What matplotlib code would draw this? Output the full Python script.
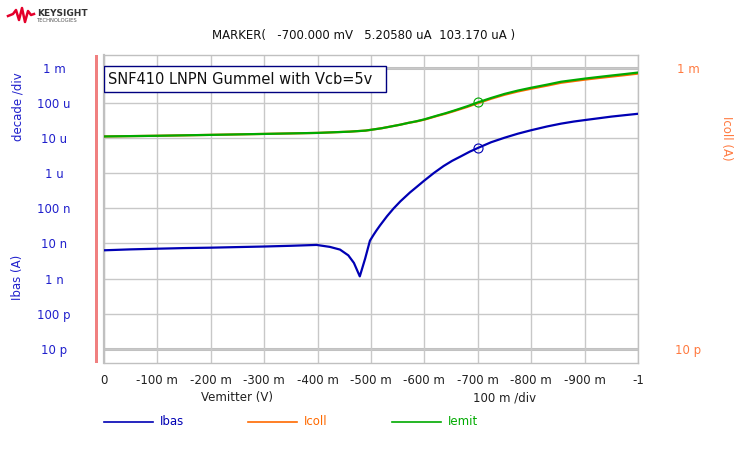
import matplotlib
matplotlib.use("Agg")
import matplotlib.pyplot as plt
from matplotlib.patches import Rectangle
from matplotlib.lines import Line2D
from matplotlib.ticker import FixedLocator, NullLocator

# data, Vemitter in volts, currents in amps
ibas_v = [0, -0.05, -0.1, -0.15, -0.2, -0.25, -0.3, -0.35, -0.398, -0.423, -0.442,
          -0.4575, -0.468, -0.479, -0.489, -0.498, -0.505, -0.51, -0.517, -0.53,
          -0.542, -0.555, -0.573, -0.585, -0.6, -0.618, -0.636, -0.652, -0.668,
          -0.685, -0.7, -0.725, -0.75, -0.775, -0.8, -0.83, -0.856, -0.88, -0.9,
          -0.925, -0.95, -0.975, -1.0]
ibas = [6.4e-9, 6.8e-9, 7.1e-9, 7.4e-9, 7.6e-9, 7.9e-9, 8.2e-9, 8.6e-9, 9.1e-9,
        8.0e-9, 6.7e-9, 4.6e-9, 2.8e-9, 1.16e-9, 3.7e-9, 12e-9, 17.8e-9, 23.2e-9,
        32.8e-9, 59.7e-9, 98e-9, 158e-9, 283e-9, 400e-9, 620e-9, 1.02e-6, 1.6e-6,
        2.25e-6, 3.0e-6, 4.1e-6, 5.2058e-6, 7.6e-6, 10.2e-6, 13.3e-6, 16.7e-6,
        21.4e-6, 25.7e-6, 29.5e-6, 32.4e-6, 36.3e-6, 40.7e-6, 44.7e-6, 49e-6]

ie_v = [0, -0.1, -0.2, -0.3, -0.4, -0.46, -0.49, -0.52, -0.542, -0.555, -0.57,
        -0.585, -0.6, -0.625, -0.64, -0.655, -0.68, -0.7, -0.725, -0.75, -0.775,
        -0.8, -0.83, -0.856, -0.9, -0.925, -0.95, -0.975, -1.0]
iemit = [11.1e-6, 11.6e-6, 12.3e-6, 13.1e-6, 14.0e-6, 15.2e-6, 16.3e-6, 19e-6,
         22e-6, 24e-6, 27e-6, 30e-6, 34e-6, 44e-6, 51e-6, 60e-6, 80e-6, 103.17e-6,
         138e-6, 180e-6, 224e-6, 270e-6, 331e-6, 400e-6, 490e-6, 543e-6, 600e-6,
         660e-6, 730e-6]
icoll = [11.1e-6, 11.6e-6, 12.3e-6, 13.1e-6, 14.0e-6, 15.2e-6, 16.3e-6, 19e-6,
         22e-6, 24e-6, 27e-6, 29.6e-6, 33.4e-6, 43e-6, 49.5e-6, 58e-6, 76.5e-6,
         97.96e-6, 131e-6, 170e-6, 211e-6, 253e-6, 310e-6, 374e-6, 458e-6, 507e-6,
         559e-6, 615e-6, 681e-6]

mark_v = -0.7
mark_ib = 5.2058e-6
mark_ie = 103.17e-6

xticks = [0, -0.1, -0.2, -0.3, -0.4, -0.5, -0.6, -0.7, -0.8, -0.9, -1.0]
xlabels = ["0", "-100 m", "-200 m", "-300 m", "-400 m", "-500 m", "-600 m",
           "-700 m", "-800 m", "-900 m", "-1"]
yticks = [1e-11, 1e-10, 1e-9, 1e-8, 1e-7, 1e-6, 1e-5, 1e-4, 1e-3]
ylabels = ["10 p", "100 p", "1 n", "10 n", "100 n", "1 u", "10 u", "100 u", "1 m"]

c_ib = "#0000b4"
c_ic = "#ff6a00"
c_ie = "#00aa00"
c_blue_txt = "#2020cc"
c_or_txt = "#ff7a40"
c_grid = "#c8c8c8"

plt.rcParams["font.family"] = "DejaVu Sans"

W, H = 741, 453
fig = plt.figure(figsize=(W / 100, H / 100), dpi=100)
L, R, T, B = 104, 638, 54.7, 363.3
ax = fig.add_axes([L / W, 1 - B / H, (R - L) / W, (B - T) / H])

ax.set_yscale("log")
ax.set_xlim(0, -1)
ax.set_ylim(3.9e-12, 2.35e-3)

ax.plot(ie_v, icoll, color=c_ic, lw=1.6, zorder=3)
ax.plot(ie_v, iemit, color=c_ie, lw=1.6, zorder=4)
ax.plot(ibas_v, ibas, color=c_ib, lw=1.6, zorder=4)
ax.plot([mark_v], [mark_ie], "o", mfc="none", mec=c_ie, ms=6.5, mew=0.8, zorder=5)
ax.plot([mark_v], [mark_ib], "o", mfc="none", mec=c_ib, ms=6.5, mew=0.8, zorder=5)

ax.xaxis.set_major_locator(FixedLocator(xticks))
ax.set_xticklabels(xlabels)
ax.yaxis.set_major_locator(FixedLocator(yticks))
ax.yaxis.set_minor_locator(NullLocator())
ax.set_yticklabels(ylabels)
ax.grid(True, color=c_grid, lw=1)
ax.axhline(1e-3, color="#c0c0c0", lw=2.2, zorder=1)
ax.axhline(1e-11, color="#c0c0c0", lw=2.2, zorder=1)
ax.tick_params(axis="x", length=0, pad=8, labelsize=8.5, labelcolor="#202020")
ax.tick_params(axis="y", length=0, pad=36, labelsize=8.5, labelcolor=c_blue_txt)
for t in ax.get_yticklabels():
    t.set_horizontalalignment("center")
for s in ax.spines.values():
    s.set_color("#c0c0c0")
    s.set_linewidth(1)
ax.spines["left"].set_linewidth(1.6)

ax2 = ax.twinx()
ax2.set_yscale("log")
ax2.set_ylim(ax.get_ylim())
ax2.yaxis.set_major_locator(FixedLocator([1e-11, 1e-3]))
ax2.yaxis.set_minor_locator(NullLocator())
ax2.set_yticklabels(["10 p", "1 m"])
ax2.tick_params(axis="y", length=0, pad=36, labelsize=8.5, labelcolor=c_or_txt)
for t in ax2.get_yticklabels():
    t.set_horizontalalignment("center")
for s in ax2.spines.values():
    s.set_visible(False)

# title box in the plot
ax.add_patch(Rectangle((0, 0.878), 0.528, 0.085, transform=ax.transAxes,
                       facecolor="white", edgecolor="#000080", lw=1, zorder=6))
ax.text(0.008, 0.92, "SNF410 LNPN Gummel with Vcb=5v", transform=ax.transAxes,
        fontsize=10.5, va="center", ha="left", color="#111111", zorder=7)

# pink bar at left of the plot
fig.add_artist(Rectangle((94.5 / W, 1 - B / H), 3.5 / W, (B - T) / H,
                         transform=fig.transFigure, color="#f08080", lw=0))

fig.text(212 / W, 1 - 35 / H, "MARKER(   -700.000 mV   5.20580 uA  103.170 uA )",
         fontsize=8.5, va="center", ha="left", color="#111111")

fig.text(18 / W, 1 - 107 / H, "decade /div", rotation=90, fontsize=8.5,
         color=c_blue_txt, ha="center", va="center")
fig.text(18 / W, 1 - 277 / H, "Ibas (A)", rotation=90, fontsize=8.5,
         color=c_blue_txt, ha="center", va="center")
fig.text(727 / W, 1 - 138 / H, "Icoll (A)", rotation=270, fontsize=8.5,
         color=c_or_txt, ha="center", va="center")
fig.text(237 / W, 1 - 398 / H, "Vemitter (V)", fontsize=8.5, color="#202020",
         ha="center", va="center")
fig.text(505 / W, 1 - 398 / H, "100 m /div", fontsize=8.5, color="#202020",
         ha="center", va="center")

# legend row
for x0, name, col in [(104, "Ibas", c_ib), (248, "Icoll", c_ic), (392, "Iemit", c_ie)]:
    fig.add_artist(Line2D([x0 / W, (x0 + 49) / W], [1 - 421.5 / H] * 2,
                          transform=fig.transFigure, color=col, lw=1.2))
    fig.text((x0 + 56) / W, 1 - 421.5 / H, name, fontsize=8.5, color=col,
             ha="left", va="center")

# keysight logo
fig.add_artist(Line2D([x / W for x in [8, 13, 16, 19, 22, 25, 28, 31, 34]],
                      [1 - y / H for y in [16, 14, 10, 20, 8, 22, 11, 15, 14]],
                      transform=fig.transFigure, color="#e4002b", lw=1.8))
fig.text(37 / W, 1 - 13 / H, "KEYSIGHT", fontsize=6.5, weight="bold",
         color="#333333", ha="left", va="center")
fig.text(37 / W, 1 - 20.5 / H, "TECHNOLOGIES", fontsize=3.8, color="#555555",
         ha="left", va="center")

fig.savefig("out.png", dpi=100)
